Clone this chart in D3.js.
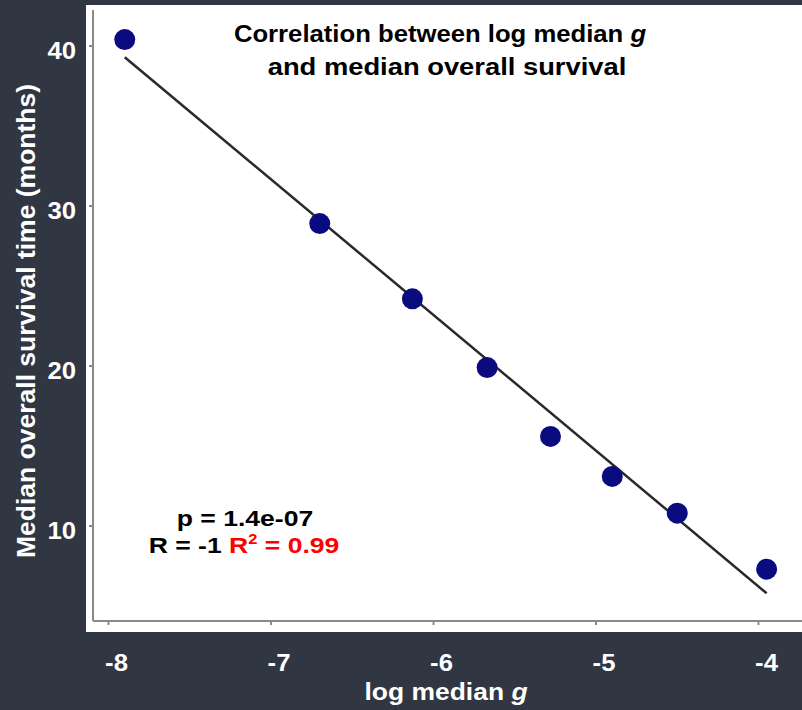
<!DOCTYPE html>
<html><head><meta charset="utf-8">
<script src="https://cdn.jsdelivr.net/npm/d3@7"></script>
<style>html,body{margin:0;padding:0;background:#303642;}svg{display:block;}</style>
</head><body>
<svg id="c" width="802" height="710"></svg>
<script>
const logG = [-7.90, -6.70, -6.13, -5.67, -5.28, -4.90, -4.50, -3.95];
const survival = [40.4, 28.9, 24.2, 19.9, 15.6, 13.1, 10.8, 7.3];
const fitX = [-7.90, -3.95];
const fitY = [39.3, 5.8];
const xTicks = [-8, -7, -6, -5, -4];
const yTicks = [10, 20, 30, 40];

const svg = d3.select("#c");
const W = 802, H = 710;
svg.append("rect").attr("width", W).attr("height", H).attr("fill", "#303642");
svg.append("rect").attr("x", 86).attr("y", 5).attr("width", W - 86).attr("height", 627).attr("fill", "#ffffff");

const x = d3.scaleLinear().domain([-8, -4]).range([108.5, 758.5]);
const y = d3.scaleLinear().domain([10, 40]).range([526, 46]);
const font = "'Liberation Sans', Arial, sans-serif";

function txt(parent, tx, ty, size, sx, anchor, fill) {
  return parent.append("text")
    .attr("transform", `translate(${tx},${ty}) scale(${sx},1)`)
    .attr("text-anchor", anchor)
    .attr("font-family", font).attr("font-weight", "bold")
    .attr("font-size", size).attr("fill", fill);
}

// axes inside plot
const axisG = svg.append("g");
axisG.append("line").attr("x1", 93).attr("x2", 93).attr("y1", 10).attr("y2", 621).attr("stroke", "#8a8a8a").attr("stroke-width", 2);
axisG.append("line").attr("x1", 93).attr("x2", 802).attr("y1", 621).attr("y2", 621).attr("stroke", "#8a8a8a").attr("stroke-width", 2);
xTicks.forEach(t => axisG.append("line").attr("x1", x(t)).attr("x2", x(t)).attr("y1", 621).attr("y2", 625).attr("stroke", "#8a8a8a").attr("stroke-width", 2));
yTicks.forEach(t => axisG.append("line").attr("x1", 89).attr("x2", 93).attr("y1", y(t)).attr("y2", y(t)).attr("stroke", "#8a8a8a").attr("stroke-width", 2));

// tick labels
xTicks.forEach(t => txt(svg, x(t) + 8, 671, 24.5, 1.05, "middle", "#ffffff").text(t));
yTicks.forEach(t => txt(svg, 76, y(t) + 13, 24.5, 1.05, "end", "#ffffff").text(t));

// axis titles
const xl = txt(svg, 446, 700, 24.5, 1.08, "middle", "#ffffff");
xl.append("tspan").text("log median ");
xl.append("tspan").attr("font-style", "italic").text("g");

svg.append("text").attr("transform", "translate(35,321) rotate(-90)").attr("text-anchor", "middle")
  .attr("font-family", font).attr("font-weight", "bold").attr("font-size", 26.5).attr("fill", "#ffffff")
  .text("Median overall survival time (months)");

// fit line
svg.append("line").attr("x1", x(fitX[0])).attr("y1", y(fitY[0])).attr("x2", x(fitX[1])).attr("y2", y(fitY[1]))
  .attr("stroke", "#2a2a2a").attr("stroke-width", 2.5);

// points
svg.append("g").selectAll("circle").data(logG.map((v, i) => [v, survival[i]])).join("circle")
  .attr("cx", d => x(d[0])).attr("cy", d => y(d[1])).attr("r", 10.5).attr("fill", "#0b0b80");

// title
const t1 = txt(svg, 440, 42, 24, 1.07, "middle", "#000");
t1.append("tspan").text("Correlation between log median ");
t1.append("tspan").attr("font-style", "italic").text("g");
txt(svg, 447, 75, 24, 1.14, "middle", "#000").text("and median overall survival");

// stats
txt(svg, 245, 526, 22.5, 1.18, "middle", "#000").text("p = 1.4e-07");
const s2 = txt(svg, 244, 553, 22.5, 1.18, "middle", "#000");
s2.append("tspan").text("R = -1 ");
s2.append("tspan").attr("fill", "#ff0000").text("R");
s2.append("tspan").attr("fill", "#ff0000").attr("font-size", 14).attr("dy", -9).text("2");
s2.append("tspan").attr("fill", "#ff0000").attr("dy", 9).text(" = 0.99");
</script>
</body></html>
